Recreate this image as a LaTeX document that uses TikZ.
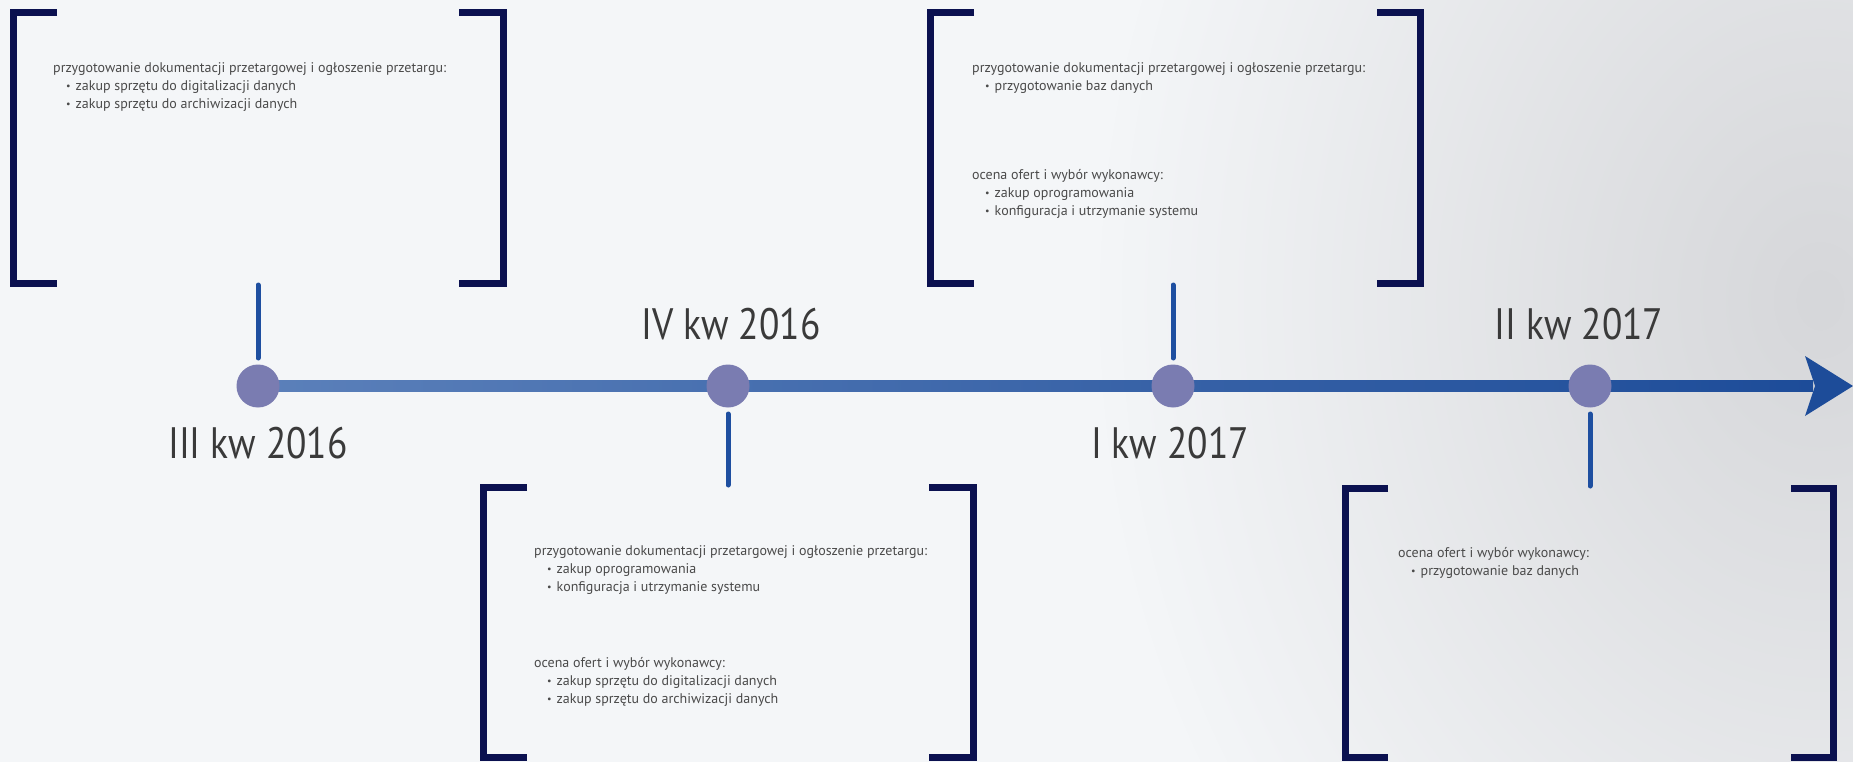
\documentclass[tikz,border=0pt]{standalone}
\usepackage{fontspec}
\setmainfont{PT Sans}
\newfontfamily\labfont[FakeStretch=0.85]{PT Sans}
\usetikzlibrary{calc,fadings}
\definecolor{bg}{HTML}{F4F6F8}
\definecolor{shadowc}{HTML}{D6D7DA}
\definecolor{navy}{HTML}{0B1150}
\definecolor{lineL}{HTML}{5B80BA}
\definecolor{lineR}{HTML}{1D4C99}
\definecolor{dotc}{HTML}{7A7CB1}
\definecolor{tickc}{HTML}{1E4FA0}
\definecolor{txt}{HTML}{4A4A4A}
\definecolor{labc}{HTML}{3A3A3A}
\tikzfading[name=softedge, inner color=transparent!0, outer color=transparent!100]
\newcommand\itm{\hspace*{13pt}\raisebox{1pt}{\fontsize{10}{10}\selectfont\textbullet}\hspace{5pt}}
\tikzset{
 brk/.style={draw=navy, line width=7pt},
 tickline/.style={draw=tickc, line width=5pt, line cap=round},
 dotnode/.style={circle, fill=dotc, minimum size=43pt, inner sep=0pt},
 datelab/.style={font=\labfont\fontsize{44}{44}\selectfont, text=labc, inner sep=0pt, anchor=base},
 boxtext/.style={font=\fontsize{14}{18}\selectfont, text=txt, align=left, anchor=base west, inner sep=0pt},
}
\begin{document}
\begin{tikzpicture}[x=1pt,y=-1pt]
\useasboundingbox (0,0) rectangle (1853,762);
\fill[bg] (0,0) rectangle (1853,762);
\fill[shadowc, path fading=softedge] (1820,300) ellipse [x radius=720, y radius=900];

% brackets
\draw[brk] (57,12.5) -- (13.5,12.5) -- (13.5,283.5) -- (57,283.5);
\draw[brk] (459,12.5) -- (503.5,12.5) -- (503.5,283.5) -- (459,283.5);
\draw[brk] (974,12.5) -- (930.5,12.5) -- (930.5,283.5) -- (974,283.5);
\draw[brk] (1377,12.5) -- (1420.5,12.5) -- (1420.5,283.5) -- (1377,283.5);
\draw[brk] (527,487.5) -- (483.5,487.5) -- (483.5,757.5) -- (527,757.5);
\draw[brk] (929,487.5) -- (973.5,487.5) -- (973.5,757.5) -- (929,757.5);
\draw[brk] (1388,488.5) -- (1345,488.5) -- (1345,757.5) -- (1388,757.5);
\draw[brk] (1791,488.5) -- (1833.5,488.5) -- (1833.5,757.5) -- (1791,757.5);

% timeline
\coordinate (start) at (258,386);
\coordinate (tip) at (1853,386);
\shade[left color=lineL, right color=lineR] ($(start)+(0,-5.5)$) rectangle ($(tip)+(-40,5.5)$);
\fill[lineR] (tip) -- ++(-48,-30) -- ++(10,30) -- ++(-10,30) -- cycle;

\node[dotnode] (c1) at (258,386) {};
\node[dotnode] (c2) at (728,386) {};
\node[dotnode] (c3) at (1173,386) {};
\node[dotnode] (c4) at (1590,386) {};

\draw[tickline] ($(c1)+(0,-28)$) -- ($(c1)+(0,-101)$);
\draw[tickline] ($(c2)+(0,28)$) -- ($(c2)+(0,99)$);
\draw[tickline] ($(c3)+(0,-28)$) -- ($(c3)+(0,-101)$);
\draw[tickline] ($(c4)+(0,28)$) -- ($(c4)+(0,100)$);

\node[datelab] (l1) at (258,458) {III kw 2016};
\node[datelab] (l2) at (731,339) {IV kw 2016};
\node[datelab] (l3) at (1170,458) {I kw 2017};
\node[datelab] (l4) at (1579,339) {II kw 2017};

% texts (anchor base = baseline of last line)
\node[boxtext] (t1) at (53,109) {przygotowanie dokumentacji przetargowej i ogłoszenie przetargu:\\
\itm zakup sprzętu do digitalizacji danych\\
\itm zakup sprzętu do archiwizacji danych};

\node[boxtext] (t3a) at (972,91) {przygotowanie dokumentacji przetargowej i ogłoszenie przetargu:\\
\itm przygotowanie baz danych};
\node[boxtext] (t3b) at (972,216) {ocena ofert i wybór wykonawcy:\\
\itm zakup oprogramowania\\
\itm konfiguracja i utrzymanie systemu};

\node[boxtext] (t2a) at (534,591) {przygotowanie dokumentacji przetargowej i ogłoszenie przetargu:\\
\itm zakup oprogramowania\\
\itm konfiguracja i utrzymanie systemu};
\node[boxtext] (t2b) at (534,703) {ocena ofert i wybór wykonawcy:\\
\itm zakup sprzętu do digitalizacji danych\\
\itm zakup sprzętu do archiwizacji danych};

\node[boxtext] (t4) at (1398,575) {ocena ofert i wybór wykonawcy:\\
\itm przygotowanie baz danych};
\end{tikzpicture}
\end{document}
